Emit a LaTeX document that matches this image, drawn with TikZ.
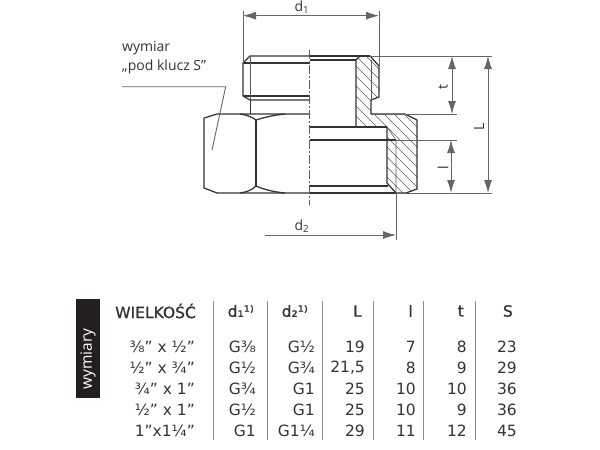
\documentclass[tikz,border=0pt]{standalone}
\usepackage{xcolor}
\usepackage{fontspec}
\usepackage{tikz}
\usetikzlibrary{arrows.meta}
\setmainfont{DejaVu Sans}
\newfontfamily\labelfont{Open Sans}
\newfontfamily\headfont[FakeBold=1]{DejaVu Sans}
\definecolor{inkgray}{HTML}{333333}
\definecolor{rulegray}{HTML}{8C8C8C}
\definecolor{boxblack}{HTML}{231F20}
\tikzset{
  body/.style={draw=inkgray,line width=1.25pt,line join=round},
  thin/.style={draw=inkgray!80,line width=0.6pt},
  axisline/.style={draw=inkgray!80,line width=0.8pt,dash pattern=on 9pt off 2pt on 2pt off 2pt},
  dimline/.style={draw=inkgray!75,line width=0.9pt},
  tip/.style={{Latex[length=13pt,width=8pt]}-{Latex[length=13pt,width=8pt]}},
  endtip/.style={-{Latex[length=13pt,width=8pt]}},
  dimtext/.style={text=inkgray,font=\labelfont\fontsize{14}{16}\selectfont,inner sep=0pt},
  celltext/.style={text=inkgray,font=\fontsize{15.5}{18}\selectfont,anchor=east,inner sep=0pt},
  headtext/.style={text=inkgray,font=\headfont\fontsize{15.5}{18}\selectfont,anchor=east,inner sep=0pt},
}
\begin{document}
\begin{tikzpicture}[x=1pt,y=-1pt]
  \useasboundingbox (0,0) rectangle (600,450);
  % hatching
  \begin{scope}
    \clip (356,60) -- (360,56) -- (370,56) -- (379,66) -- (379,97) -- (371,100) -- (371,114)
      -- (405,114) -- (417,120) -- (417,189) -- (406,193) -- (396,193) -- (387,183) -- (387,127)
      -- (356,127) -- cycle;
    \foreach \hx in {-100,-90,...,400}
      \draw[thin] (\hx,0) -- (\hx+250,250);
  \end{scope}
  % threaded end
  \draw[body] (310,56) -- (250,56) -- (243,63) -- (243,96) -- (250,100) -- (310,100);
  \draw[body] (243,63) -- (310,63);
  \draw[body] (243,96) -- (310,96);
  \draw[thin] (250.5,56) -- (250.5,100);
  \draw[body] (250.5,100) -- (250.5,114);
  % hexagon
  \draw[body] (310,114) -- (217,114) -- (204,118) -- (204,188) -- (217,193) -- (310,193);
  \draw[body] (256,120) -- (256,186);
  \draw[body] (240,114) .. controls (247,115) and (252,117) .. (256,120)
    .. controls (265,117) and (275,115) .. (285,114);
  \draw[body] (240,193) .. controls (247,192) and (252,190) .. (256,186)
    .. controls (265,190) and (275,192) .. (285,193);
  % section outline
  \draw[body] (356,60) -- (360,56) -- (370,56) -- (379,66) -- (379,97) -- (371,100) -- (371,114)
    -- (405,114) -- (417,120) -- (417,189) -- (406,193) -- (396,193) -- (387,183) -- (387,127)
    -- (356,127) -- cycle;
  \draw[body] (310,56) -- (370,56);
  \draw[body] (310,60) -- (356,60);
  \draw[body] (310,127) -- (387,127);
  \draw[body] (310,140) -- (396,140);
  \draw[body] (310,186) -- (388,186);
  \draw[body] (310,193) -- (396,193);
  \draw[thin] (371,60) -- (371,100);
  \draw[thin] (387,127) -- (396,140) -- (396,193);
  \draw[axisline] (309.5,50) -- (309.5,205);
  % dimension lines
  \coordinate (d1a) at (243,15.7);
  \coordinate (d1b) at (379,15.7);
  \coordinate (d2a) at (265,235);
  \coordinate (d2b) at (396,235);
  \coordinate (ttop) at (452,56);
  \coordinate (tbot) at (452,114);
  \coordinate (lltop) at (451,140);
  \coordinate (llbot) at (451,193);
  \coordinate (Ltop) at (488,56);
  \coordinate (Lbot) at (488,193);
  \draw[dimline] (243,11) -- (243,63);
  \draw[dimline] (379,11) -- (379,66);
  \draw[dimline] (396,193) -- (396,240);
  \draw[dimline] (370,56) -- (492,56);
  \draw[dimline] (371,114) -- (457,114);
  \draw[dimline] (396,140) -- (457,140);
  \draw[dimline] (396,193) -- (492,193);
  \draw[dimline,tip] (d1a) -- (d1b);
  \draw[dimline,endtip] (d2a) -- (d2b);
  \draw[dimline,tip] (ttop) -- (tbot);
  \draw[dimline,tip] (lltop) -- (llbot);
  \draw[dimline,tip] (Ltop) -- (Lbot);
  \node[dimtext] (d1text) at (302,7) {d\textsubscript{1}};
  \node[dimtext] (d2text) at (302,226) {d\textsubscript{2}};
  \node[dimtext,rotate=90] (ttext) at (443,87) {t};
  \node[dimtext,rotate=90] (lltext) at (443,168) {l};
  \node[dimtext,rotate=90] (Ltext) at (479,127) {L};
  % leader
  \node[dimtext,anchor=west] (wymiar) at (122,48.5) {wymiar};
  \node[dimtext,anchor=west] (podklucz) at (122,66.5) {„pod klucz S”};
  \coordinate (leadstart) at (122,86.7);
  \coordinate (leadbend) at (225.7,86.7);
  \coordinate (leadend) at (212,150);
  \draw[dimline] (leadstart) -- (leadbend) -- (leadend);
  % table
  \fill[boxblack] (76,299) rectangle (100,398);
  \node[rotate=90,text=white,font=\labelfont\fontsize{15.5}{18}\selectfont,inner sep=0pt] (wymiary) at (88,359) {wymiary};
  \foreach \rx in {213,267,322,373,423,475}
    \draw[rulegray,line width=1pt] (\rx,301) -- (\rx,440);
  \node[headtext] (hsize) at (196,311) {WIELKOŚĆ};
  \node[headtext] (hdone) at (254,311) {d₁¹⁾};
  \node[headtext] (hdtwo) at (308,311) {d₂¹⁾};
  \node[headtext] (hL) at (362,311) {L};
  \node[headtext] (hl) at (413,311) {l};
  \node[headtext] (ht) at (464,311) {t};
  \node[headtext] (hS) at (513,311) {S};
  \foreach \ry/\csize/\cdone/\cdtwo/\cL/\cl/\ct/\cS in {
    347/⅜" x ½"/G⅜/G½/19/7/8/23,
    368/½" x ¾"/G½/G¾/{21,5}/8/9/29,
    389/¾" x 1"/G¾/G1/25/10/10/36,
    410/½" x 1"/G½/G1/25/10/9/36,
    431/1"x1¼"/G1/G1¼/29/11/12/45}{
    \node[celltext] (size\ry) at (195,\ry) {\csize};
    \node[celltext] (done\ry) at (256,\ry) {\cdone};
    \node[celltext] (dtwo\ry) at (315,\ry) {\cdtwo};
    \node[celltext] (L\ry) at (365,\ry) {\cL};
    \node[celltext] (l\ry) at (416,\ry) {\cl};
    \node[celltext] (t\ry) at (467,\ry) {\ct};
    \node[celltext] (S\ry) at (517,\ry) {\cS};
  }
\end{tikzpicture}
\end{document}
